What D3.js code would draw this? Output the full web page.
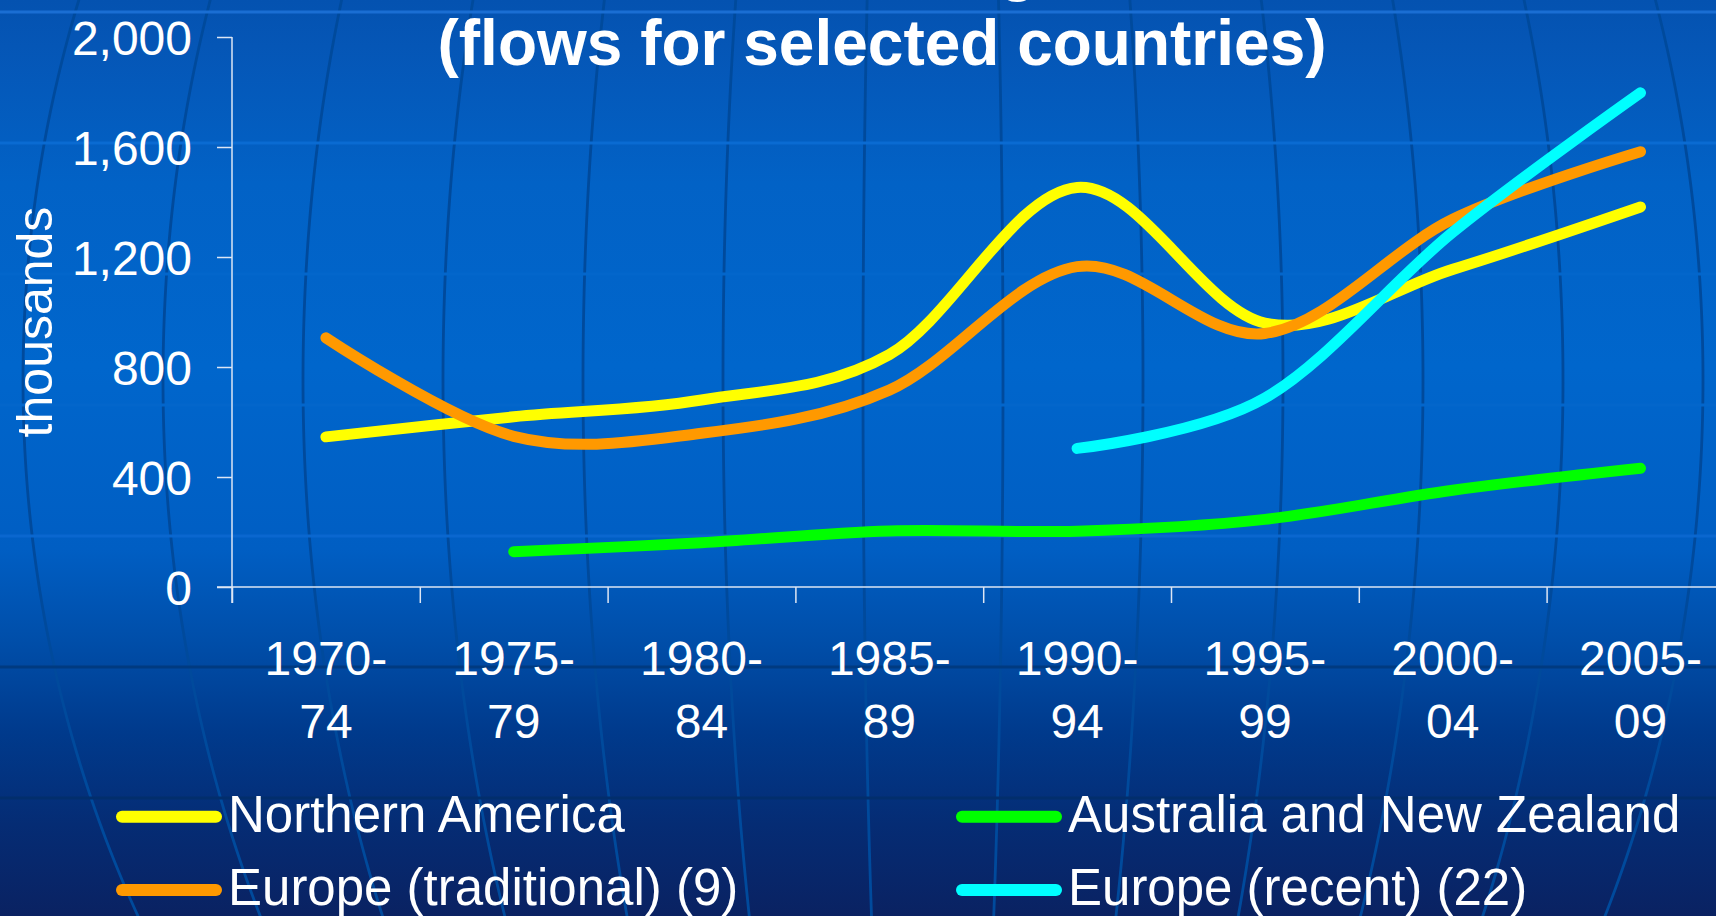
<!DOCTYPE html>
<html><head><meta charset="utf-8">
<script src="https://cdn.jsdelivr.net/npm/d3@7"></script>
<style>html,body{margin:0;padding:0;background:#0060c0;overflow:hidden}svg{display:block}</style>
</head><body>
<svg id="chart" width="1716" height="916"></svg>
<script>
// ---- data ----
const categories = ["1970-74","1975-79","1980-84","1985-89","1990-94","1995-99","2000-04","2005-09"];
const yTicks = [0, 400, 800, 1200, 1600, 2000];
const northernAmerica   = [546, 619, 680, 845, 1453, 960, 1155, 1382];
const australiaNZ       = [null, 128, 161, 204, 203, 246, 352, 432];
const europeTraditional = [906, 548, 559, 716, 1165, 922, 1337, 1583];
const europeRecent      = [null, null, null, null, 504, 687, 1290, 1797];
const seriesNames  = ["Northern America", "Australia and New Zealand", "Europe (traditional) (9)", "Europe (recent) (22)"];
const seriesValues = [northernAmerica, australiaNZ, europeTraditional, europeRecent];
const seriesColors = ["#FFFF00", "#00FF00", "#FF9900", "#00FFFF"];
const titleText = "(flows for selected countries)";
const yTitle = "thousands";

// ---- drawing ----
const W = 1716, H = 916;
const FONT = "'Liberation Sans', Arial, Helvetica, sans-serif";
const svg = d3.select("#chart");

// background gradient
const defs = svg.append("defs");
const grad = defs.append("linearGradient").attr("id", "bg").attr("x1", 0).attr("y1", 0).attr("x2", 0).attr("y2", 1);
[[0, "#0452B0"], [0.05, "#0556B6"], [0.2, "#0262C6"], [0.4, "#0066CC"], [0.6, "#005EC3"],
 [0.7, "#004EA9"], [0.8, "#003A8C"], [0.9, "#052C74"], [1, "#0A2262"]]
  .forEach(([o, c]) => grad.append("stop").attr("offset", o).attr("stop-color", c));
svg.append("rect").attr("width", W).attr("height", H).attr("fill", "url(#bg)");

// decorative globe meridians
const bgG = svg.append("g");
const cx = 930, cy = 380, b = 1100;
const ys = d3.range(-20, H + 30, 10);
d3.range(13).forEach(i => {
  const a = 23 + 140 * i - cx;
  const ln = d3.line().x(yy => cx + a * Math.sqrt(Math.max(0, 1 - ((yy - cy) / b) ** 2))).y(yy => yy);
  bgG.append("path").attr("d", ln(ys)).attr("fill", "none")
    .attr("stroke", "#004A9C").attr("stroke-width", 2.8);
});
[[12, "#1a6ed3"], [143, "#0a6bd2"], [274, "#0366cb"], [405, "#0366cb"], [536, "#0a67cf"], [667, "#003a80"], [798, "#022e6c"]]
  .forEach(([yy, c]) => bgG.append("line").attr("x1", 0).attr("x2", W).attr("y1", yy).attr("y2", yy)
    .attr("stroke", c).attr("stroke-width", 3));

// scales
const x = d3.scaleLinear().domain([0, categories.length]).range([232, 232 + 8 * 187.8]);
const y = d3.scaleLinear().domain([0, 2000]).range([587, 37]);
const axisColor = "#dde6f4";

// title
svg.append("text").attr("x", 1018).attr("y", -11).attr("text-anchor", "middle")
  .attr("font-family", FONT).attr("font-weight", "bold").attr("font-size", 64).attr("fill", "#fff").text("g");
svg.append("text").attr("x", 882).attr("y", 65).attr("text-anchor", "middle")
  .attr("font-family", FONT).attr("font-weight", "bold").attr("font-size", 64).attr("fill", "#fff").text(titleText);

// y axis
const yAxisG = svg.append("g").attr("transform", "translate(232,0)")
  .call(d3.axisLeft(y).tickValues(yTicks).tickFormat(d3.format(",")).tickSize(15).tickSizeOuter(0).tickPadding(25));
yAxisG.select(".domain").remove();
yAxisG.selectAll(".tick line").attr("stroke", axisColor).attr("stroke-width", 1.5);
yAxisG.selectAll(".tick text").attr("fill", "#fff").attr("font-family", FONT).attr("font-size", 48).attr("dy", "0.36em");
svg.append("line").attr("x1", 232).attr("x2", 232).attr("y1", y(2000)).attr("y2", y(0) + 16)
  .attr("stroke", axisColor).attr("stroke-width", 1.5);

svg.append("text").attr("transform", `translate(52,322) rotate(-90)`).attr("text-anchor", "middle")
  .attr("font-family", FONT).attr("font-size", 50).attr("fill", "#fff").text(yTitle);

// x axis
const xAxisG = svg.append("g").attr("transform", `translate(0,${y(0)})`)
  .call(d3.axisBottom(x).tickValues(d3.range(categories.length + 1)).tickFormat("").tickSize(16).tickSizeOuter(0));
xAxisG.select(".domain").remove();
xAxisG.selectAll(".tick line").attr("stroke", axisColor).attr("stroke-width", 1.5);
svg.append("line").attr("x1", 217).attr("x2", W).attr("y1", y(0)).attr("y2", y(0))
  .attr("stroke", axisColor).attr("stroke-width", 1.5);

const xl = svg.append("g").selectAll("text").data(categories).join("text")
  .attr("x", (d, i) => x(i + 0.5)).attr("text-anchor", "middle")
  .attr("font-family", FONT).attr("font-size", 48).attr("fill", "#fff");
xl.append("tspan").attr("x", (d, i) => x(i + 0.5)).attr("y", 675).text(d => d.split("-")[0] + "-");
xl.append("tspan").attr("x", (d, i) => x(i + 0.5)).attr("y", 738).text(d => d.split("-")[1]);

// lines
const line = d3.line()
  .defined(d => d.v != null)
  .x(d => x(d.i + 0.5)).y(d => y(d.v))
  .curve(d3.curveCardinal.tension(0));
seriesValues.forEach((vals, k) => {
  svg.append("path")
    .attr("d", line(vals.map((v, i) => ({ i, v }))))
    .attr("fill", "none").attr("stroke", seriesColors[k]).attr("stroke-width", 11)
    .attr("stroke-linecap", "round").attr("stroke-linejoin", "round");
});

// legend
const legCols = [116, 956], legRows = [816.7, 890];
seriesNames.forEach((name, k) => {
  const lx = legCols[k % 2], ly = legRows[Math.floor(k / 2)];
  svg.append("line").attr("x1", lx + 6).attr("x2", lx + 100).attr("y1", ly).attr("y2", ly)
    .attr("stroke", seriesColors[k]).attr("stroke-width", 12).attr("stroke-linecap", "round");
  svg.append("text").attr("x", lx + 112).attr("y", ly + 15)
    .attr("font-family", FONT).attr("font-size", 51).attr("fill", "#fff").text(name);
});
</script>
</body></html>
